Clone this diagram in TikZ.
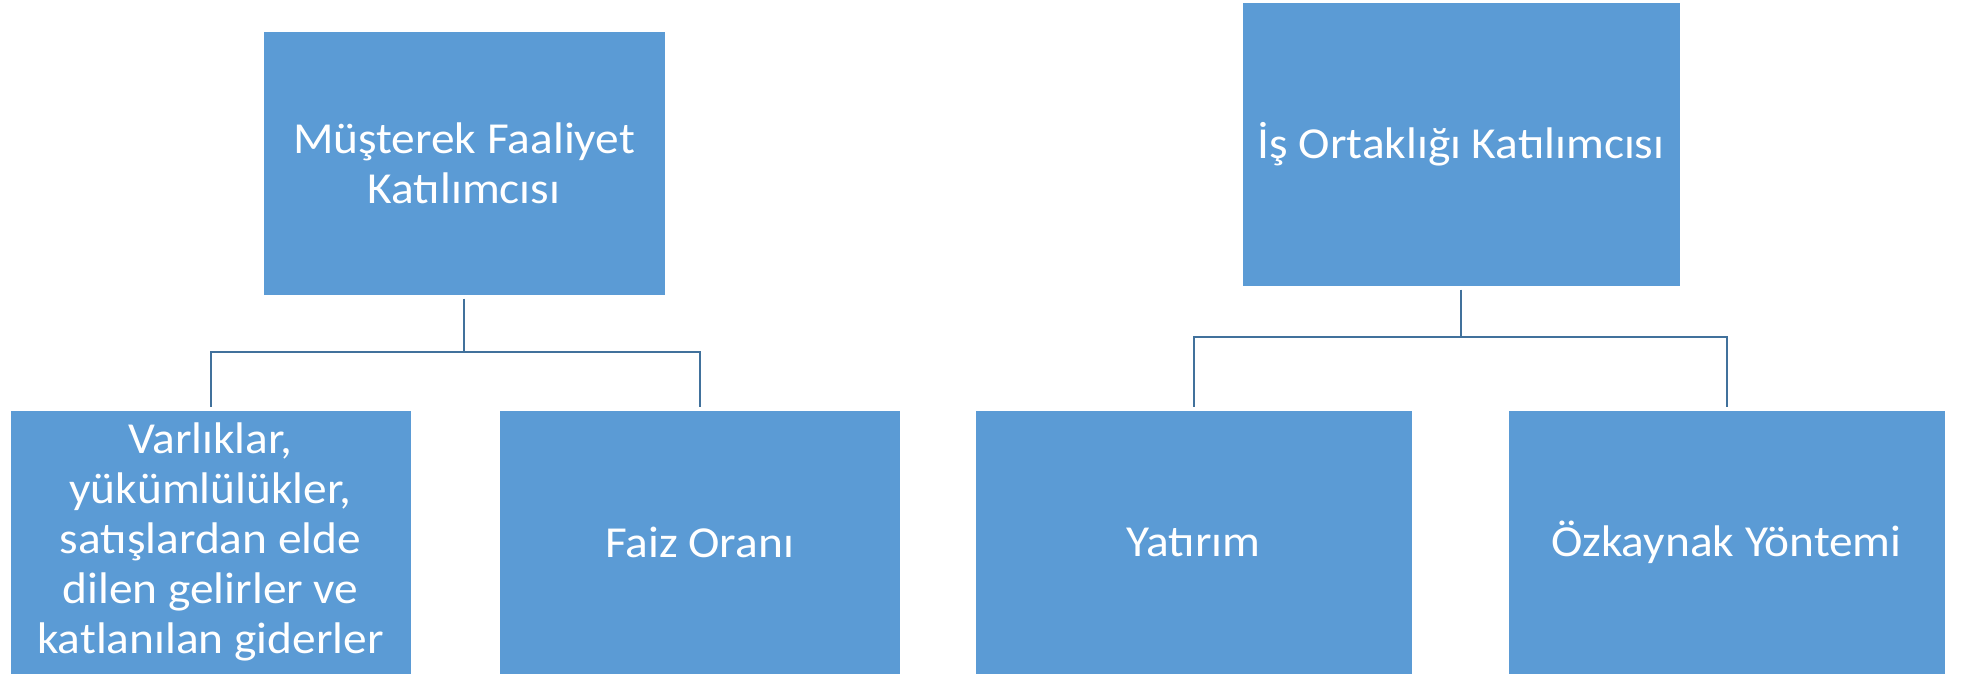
\documentclass[tikz,border=0pt]{standalone}
\usepackage{fontspec}
\setmainfont{Carlito}[FakeStretch=1.07]
\definecolor{kutumavi}{RGB}{91,155,213}
\definecolor{cizgimavi}{RGB}{65,113,156}
\begin{document}
\begin{tikzpicture}[kutu/.style={draw=white, line width=0.02cm, fill=kutumavi, text=white, align=center, minimum height=5.28cm, outer sep=0.07cm, inner sep=0pt, font=\fontsize{25.2pt}{28.45pt}\selectfont}, baglanti/.style={draw=cizgimavi, line width=0.04cm}, line join=miter]
	\useasboundingbox (0, 0) rectangle (39.4, -13.48);
	
	% Müşterek faaliyet
	\node[kutu, minimum width=8.04cm] (mfk) at (9.28, -3.26) {Müşterek Faaliyet\\Katılımcısı};
	\node[kutu, minimum width=8.02cm] (varlik) at (4.21, -10.84) {Varlıklar,\\yükümlülükler,\\satışlardan elde\\dilen gelirler ve\\katlanılan giderler};
	\node[kutu, minimum width=8.02cm] (faiz) at (13.99, -10.84) {Faiz Oranı};
	\coordinate (kmfk) at (9.28, -7.04);
	\draw[baglanti] (mfk.south) -- (kmfk);
	\draw[baglanti] (kmfk) -| (varlik.north);
	\draw[baglanti] (kmfk) -| (faiz.north);
	
	% İş ortaklığı
	\node[kutu, minimum width=8.76cm, minimum height=5.66cm] (iok) at (29.22, -2.89) {İş Ortaklığı Katılımcısı};
	\node[kutu, minimum width=8.74cm] (yatirim) at (23.87, -10.84) {Yatırım};
	\node[kutu, minimum width=8.74cm] (ozkaynak) at (34.53, -10.84) {Özkaynak Yöntemi};
	\coordinate (kiok) at (29.22, -6.74);
	\draw[baglanti] (iok.south) -- (kiok);
	\draw[baglanti] (kiok) -| (yatirim.north);
	\draw[baglanti] (kiok) -| (ozkaynak.north);
	
\end{tikzpicture}
\end{document}
